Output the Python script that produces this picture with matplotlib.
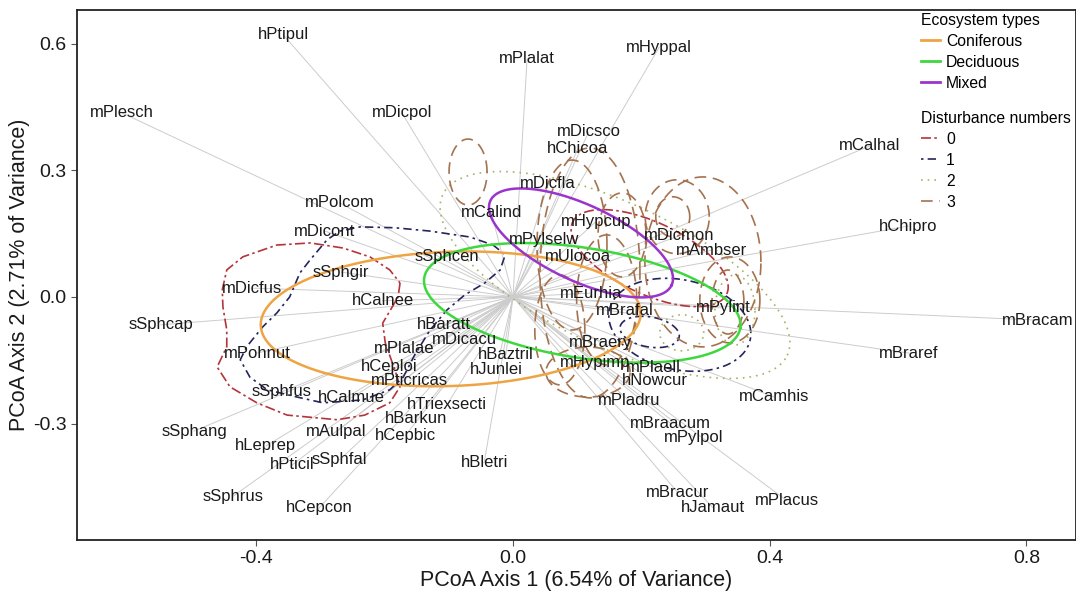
import numpy as np
import matplotlib
matplotlib.use("Agg")
import matplotlib.pyplot as plt
from matplotlib.lines import Line2D

plt.rcParams['font.family'] = ['Liberation Sans', 'DejaVu Sans']
plt.rcParams['axes.unicode_minus'] = False

# species scores on the two PCoA axes
species = ['hPtipul', 'mPlesch', 'mDicpol', 'mPlalat', 'mHyppal', 'mDicsco', 'hChicoa',
           'mCalhal', 'mDicfla', 'mPolcom', 'mCalind', 'mHypcup', 'mDicont', 'mPylselw',
           'mDicmon', 'mAmbser', 'mUlocoa', 'hChipro', 'sSphcen', 'sSphgir', 'mDicfus',
           'hCalnee', 'mEurhia', 'mBrafal', 'mPylint', 'mBracam', 'sSphcap', 'hBaratt',
           'mDicacu', 'mPohnut', 'mPlalae', 'mBraery', 'mBraref', 'hBaztril', 'hCeploi',
           'hJunlei', 'mHypimp', 'mPlaell', 'mPticricas', 'hNowcur', 'sSphfus', 'hCalmue',
           'hTriexsecti', 'mCamhis', 'mPladru', 'hBarkun', 'mBraacum', 'sSphang', 'mAulpal',
           'hCepbic', 'mPylpol', 'hLeprep', 'hPticil', 'sSphfal', 'hBletri', 'sSphrus',
           'hCepcon', 'mBracur', 'hJamaut', 'mPlacus']
axis1 = [-0.358, -0.609, -0.173, 0.022, 0.228, 0.118, 0.101,
         0.556, 0.055, -0.270, -0.034, 0.129, -0.293, 0.048,
         0.259, 0.310, 0.101, 0.616, -0.103, -0.268, -0.407,
         -0.203, 0.122, 0.175, 0.327, 0.818, -0.549, -0.108,
         -0.075, -0.399, -0.170, 0.136, 0.617, -0.011, -0.193,
         -0.026, 0.128, 0.218, -0.161, 0.221, -0.360, -0.252,
         -0.103, 0.407, 0.181, -0.151, 0.245, -0.497, -0.276,
         -0.168, 0.281, -0.385, -0.344, -0.270, -0.045, -0.436,
         -0.302, 0.257, 0.312, 0.427]
axis2 = [0.621, 0.436, 0.436, 0.564, 0.592, 0.391, 0.351,
         0.358, 0.268, 0.223, 0.201, 0.178, 0.156, 0.135,
         0.145, 0.111, 0.097, 0.168, 0.097, 0.059, 0.021,
         -0.009, 0.009, -0.031, -0.026, -0.055, -0.066, -0.066,
         -0.100, -0.133, -0.121, -0.107, -0.133, -0.137, -0.166,
         -0.171, -0.156, -0.168, -0.199, -0.199, -0.225, -0.239,
         -0.256, -0.237, -0.246, -0.287, -0.299, -0.318, -0.320,
         -0.329, -0.332, -0.353, -0.398, -0.386, -0.393, -0.472,
         -0.500, -0.464, -0.500, -0.483]

# ecosystem type ellipses: centre and two half-axis vectors
eco_types = ['Coniferous', 'Deciduous', 'Mixed']
eco_colors = ['#EFA444', '#3ED83E', '#9A34CC']
eco_center = [(-0.097, -0.052), (0.108, -0.014), (0.106, 0.128)]
eco_u = [(0.296, 0.0157), (0.2463, -0.0593), (0.1412, -0.1001)]
eco_v = [(-0.0036, 0.159), (0.0134, 0.1287), (0.0250, 0.0816)]

# disturbance number ellipses
dist_levels = ['0', '1', '2', '3']
dist_colors = ['#B5343A', '#25255E', '#A9B064', '#A5724E']
dist_styles = [(0, (6, 2, 1.5, 2)), (0, (1.5, 2.5, 5, 2.5)), (0, (1, 3)), (0, (7, 4))]
dist_group = [0, 1, 1, 2, 2, 2,
              3, 3, 3, 3, 3, 3, 3, 3, 3, 3, 3, 3]
dist_center = [(0.213, 0.092), (0.260, -0.066), (0.213, -0.083), (0.159, 0.052), (0.346, -0.031), (0.263, -0.085),
               (-0.070, 0.296), (0.120, 0.057), (0.092, 0.123), (0.146, -0.007), (0.073, -0.078), (0.256, 0.190),
               (0.249, 0.190), (0.338, -0.007), (0.335, -0.012), (0.296, 0.083), (0.170, 0.147), (0.117, -0.178)]
dist_u = [(0.1201, -0.0851), (0.1097, -0.0355), (0.0460, -0.0123), (0.2684, -0.1903), (0.0312, 0), (0.0343, 0),
          (0.0296, 0), (0.0779, 0), (0.0545, 0), (0.0468, 0), (0.039, 0), (0.0499, 0),
          (0.0265, 0), (0.0468, 0), (0.0249, 0), (0.0904, 0), (0.0374, 0), (0.0655, 0)]
dist_v = [(0.0237, 0.0773), (0.0146, 0.1043), (0.0041, 0.0350), (0.0474, 0.1546), (0, 0.0829), (0, 0.0427),
          (0, 0.0782), (0, 0.2962), (0, 0.2014), (0, 0.1540), (0, 0.1303), (0, 0.0877),
          (0, 0.0474), (0, 0.1019), (0, 0.0758), (0, 0.2014), (0, 0.0995), (0, 0.0592)]

# irregular contours on the left side (disturbance 0 and 1)
dist0_x = [-0.176, -0.179, -0.203, -0.199, -0.184, -0.176, -0.192, -0.231, -0.274, -0.352, -0.399, -0.441,
           -0.461, -0.446, -0.446, -0.452, -0.453, -0.446, -0.421, -0.368, -0.316, -0.265, -0.223, -0.192]
dist0_y = [0.033, 0.000, -0.062, -0.109, -0.173, -0.213, -0.251, -0.280, -0.291, -0.280, -0.251, -0.213,
           -0.166, -0.118, -0.078, -0.024, 0.017, 0.064, 0.095, 0.123, 0.128, 0.116, 0.095, 0.064]
dist1_x = [-0.031, -0.067, -0.129, -0.184, -0.238, -0.270, -0.290, -0.316, -0.332, -0.348, -0.368, -0.390,
           -0.415, -0.425, -0.410, -0.383, -0.337, -0.296, -0.234, -0.192, -0.171, -0.153, -0.129, -0.103,
           -0.075, -0.044, -0.020, -0.012]
dist1_y = [0.123, 0.142, 0.156, 0.164, 0.166, 0.156, 0.135, 0.088, 0.057, 0.000, -0.038, -0.071,
           -0.118, -0.149, -0.190, -0.220, -0.237, -0.251, -0.244, -0.220, -0.190, -0.137, -0.078, -0.031,
           0.005, 0.033, 0.064, 0.100]


def ellipse(c, u, v):
    t = np.linspace(0, 2 * np.pi, 240)
    x = c[0] + u[0] * np.cos(t) + v[0] * np.sin(t)
    y = c[1] + u[1] * np.cos(t) + v[1] * np.sin(t)
    return x, y


fig = plt.figure(figsize=(10.76, 5.92), dpi=100)
ax = fig.add_axes([77 / 1076, 52 / 592, 999 / 1076, 530 / 592])

# arrows from origin to species
for name, x, y in zip(species, axis1, axis2):
    ax.plot([0, x], [0, y], color='#CCCCCC', lw=0.7, zorder=1)

# disturbance ellipses
for g, c, u, v in zip(dist_group, dist_center, dist_u, dist_v):
    ex, ey = ellipse(c, u, v)
    ax.plot(ex, ey, color=dist_colors[g], lw=1.2, linestyle=dist_styles[g], zorder=2)
ax.plot(dist0_x + dist0_x[:1], dist0_y + dist0_y[:1], color=dist_colors[0], lw=1.2,
        linestyle=dist_styles[0], zorder=2)
ax.plot(dist1_x + dist1_x[:1], dist1_y + dist1_y[:1], color=dist_colors[1], lw=1.2,
        linestyle=dist_styles[1], zorder=2)

# ecosystem ellipses
for c, u, v, col in zip(eco_center, eco_u, eco_v, eco_colors):
    ex, ey = ellipse(c, u, v)
    ax.plot(ex, ey, color=col, lw=1.8, zorder=3)

for name, x, y in zip(species, axis1, axis2):
    ax.text(x, y, name, fontsize=12, ha='center', va='center', color='#1A1A1A', zorder=4)

ax.set_xlim(-0.6794, 0.8774)
ax.set_ylim(-0.576, 0.680)
ax.set_xticks([-0.4, 0.0, 0.4, 0.8])
ax.set_xticklabels(['-0.4', '0.0', '0.4', '0.8'])
ax.set_yticks([-0.3, 0.0, 0.3, 0.6])
ax.set_yticklabels(['-0.3', '0.0', '0.3', '0.6'])
ax.tick_params(labelsize=14, length=4, color='#555555', labelcolor='#1A1A1A')
for s in ax.spines.values():
    s.set_linewidth(1.3)
    s.set_color('#222222')
ax.set_xlabel('PCoA Axis 1 (6.54% of Variance)', fontsize=15.5, color='#1A1A1A', labelpad=2)
ax.set_ylabel('PCoA Axis 2 (2.71% of Variance)', fontsize=15.5, color='#1A1A1A', labelpad=2)

# legends
eco_handles = [Line2D([], [], color=c, lw=2) for c in eco_colors]
leg1 = ax.legend(eco_handles, eco_types, title='Ecosystem types', loc='upper left',
                 bbox_to_anchor=(910 / 1076, 1 - 2 / 592), bbox_transform=fig.transFigure,
                 frameon=False, fontsize=11.3, title_fontsize=11.3, handlelength=1.2,
                 handletextpad=0.4, labelspacing=0.38, borderpad=0.2, alignment='left')
ax.add_artist(leg1)
dist_handles = [Line2D([], [], color=c, lw=1.2, linestyle=s) for c, s in zip(dist_colors, dist_styles)]
ax.legend(dist_handles, dist_levels, title='Disturbance numbers', loc='upper left',
          bbox_to_anchor=(910 / 1076, 1 - 100 / 592), bbox_transform=fig.transFigure,
          frameon=False, fontsize=11.3, title_fontsize=11.3, handlelength=1.2,
          handletextpad=0.4, labelspacing=0.38, borderpad=0.2, alignment='left')

fig.savefig('out.png', dpi=100)
